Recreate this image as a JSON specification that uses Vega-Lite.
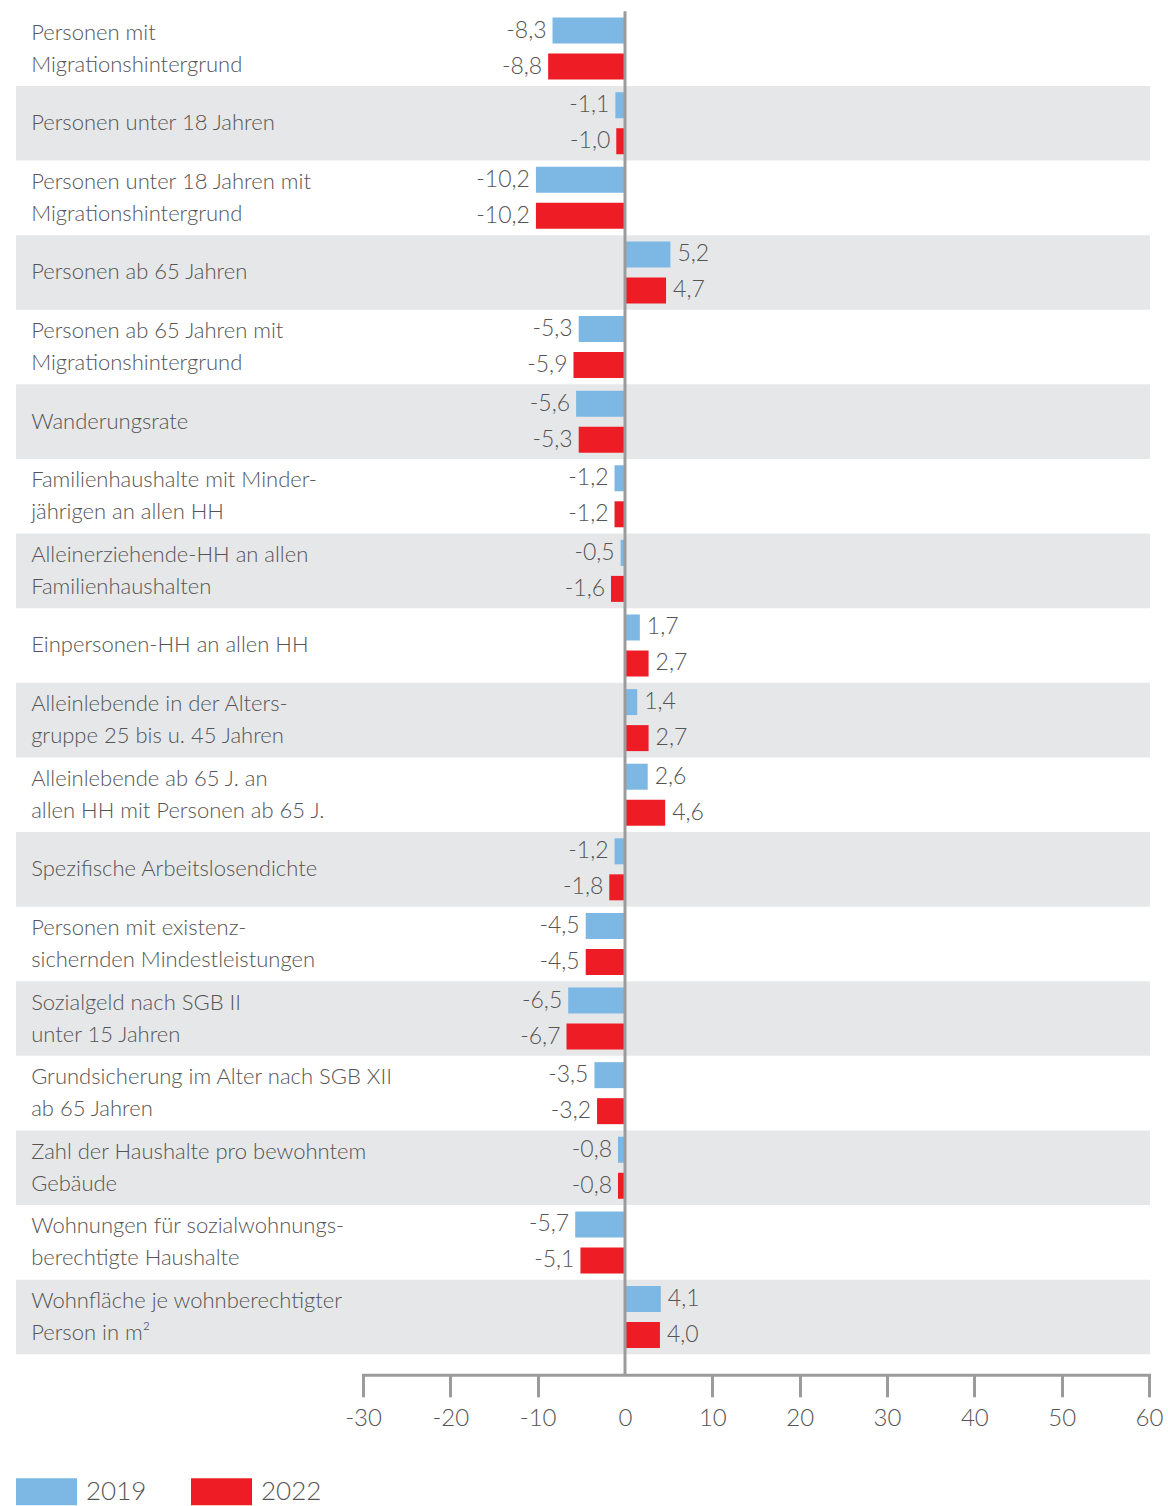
{
  "$schema": "https://vega.github.io/schema/vega-lite/v6.json",
  "width": 786,
  "height": 1363.5,
  "autosize": {"type": "none"},
  "padding": {"left": 363, "top": 11.3, "right": 19, "bottom": 131.2},
  "background": "white",
  "config": {
    "view": {"stroke": null},
    "font": "Lato",
    "locale": {"number": {"decimal": ",", "thousands": ".", "grouping": [3], "currency": ["", " €"], "minus": "-"}}
  },
  "datasets": {
    "labels": [
      {"cat": "c01", "lines": ["Personen mit", "Migrationshintergrund"]},
      {"cat": "c02", "lines": ["Personen unter 18 Jahren"]},
      {"cat": "c03", "lines": ["Personen unter 18 Jahren mit", "Migrationshintergrund"]},
      {"cat": "c04", "lines": ["Personen ab 65 Jahren"]},
      {"cat": "c05", "lines": ["Personen ab 65 Jahren mit", "Migrationshintergrund"]},
      {"cat": "c06", "lines": ["Wanderungsrate"]},
      {"cat": "c07", "lines": ["Familienhaushalte mit Minder-", "jährigen an allen HH"]},
      {"cat": "c08", "lines": ["Alleinerziehende-HH an allen", "Familienhaushalten"]},
      {"cat": "c09", "lines": ["Einpersonen-HH an allen HH"]},
      {"cat": "c10", "lines": ["Alleinlebende in der Alters-", "gruppe 25 bis u. 45 Jahren"]},
      {"cat": "c11", "lines": ["Alleinlebende ab 65 J. an", "allen HH mit Personen ab 65 J."]},
      {"cat": "c12", "lines": ["Spezifische Arbeitslosendichte"]},
      {"cat": "c13", "lines": ["Personen mit existenz-", "sichernden Mindestleistungen"]},
      {"cat": "c14", "lines": ["Sozialgeld nach SGB II", "unter 15 Jahren"]},
      {"cat": "c15", "lines": ["Grundsicherung im Alter nach SGB XII", "ab 65 Jahren"]},
      {"cat": "c16", "lines": ["Zahl der Haushalte pro bewohntem", "Gebäude"]},
      {"cat": "c17", "lines": ["Wohnungen für sozialwohnungs-", "berechtigte Haushalte"]},
      {"cat": "c18", "lines": ["Wohnfläche je wohnberechtigter", "Person in m²"]}
    ],
    "bars": [
      {"cat": "c01", "year": "2019", "value": -8.3}, {"cat": "c01", "year": "2022", "value": -8.8},
      {"cat": "c02", "year": "2019", "value": -1.1}, {"cat": "c02", "year": "2022", "value": -1.0},
      {"cat": "c03", "year": "2019", "value": -10.2}, {"cat": "c03", "year": "2022", "value": -10.2},
      {"cat": "c04", "year": "2019", "value": 5.2}, {"cat": "c04", "year": "2022", "value": 4.7},
      {"cat": "c05", "year": "2019", "value": -5.3}, {"cat": "c05", "year": "2022", "value": -5.9},
      {"cat": "c06", "year": "2019", "value": -5.6}, {"cat": "c06", "year": "2022", "value": -5.3},
      {"cat": "c07", "year": "2019", "value": -1.2}, {"cat": "c07", "year": "2022", "value": -1.2},
      {"cat": "c08", "year": "2019", "value": -0.5}, {"cat": "c08", "year": "2022", "value": -1.6},
      {"cat": "c09", "year": "2019", "value": 1.7}, {"cat": "c09", "year": "2022", "value": 2.7},
      {"cat": "c10", "year": "2019", "value": 1.4}, {"cat": "c10", "year": "2022", "value": 2.7},
      {"cat": "c11", "year": "2019", "value": 2.6}, {"cat": "c11", "year": "2022", "value": 4.6},
      {"cat": "c12", "year": "2019", "value": -1.2}, {"cat": "c12", "year": "2022", "value": -1.8},
      {"cat": "c13", "year": "2019", "value": -4.5}, {"cat": "c13", "year": "2022", "value": -4.5},
      {"cat": "c14", "year": "2019", "value": -6.5}, {"cat": "c14", "year": "2022", "value": -6.7},
      {"cat": "c15", "year": "2019", "value": -3.5}, {"cat": "c15", "year": "2022", "value": -3.2},
      {"cat": "c16", "year": "2019", "value": -0.8}, {"cat": "c16", "year": "2022", "value": -0.8},
      {"cat": "c17", "year": "2019", "value": -5.7}, {"cat": "c17", "year": "2022", "value": -5.1},
      {"cat": "c18", "year": "2019", "value": 4.1}, {"cat": "c18", "year": "2022", "value": 4.0}
    ]
  },
  "encoding": {
    "y": {
      "field": "cat", "type": "nominal", "axis": null,
      "scale": {
        "domain": ["c01","c02","c03","c04","c05","c06","c07","c08","c09","c10","c11","c12","c13","c14","c15","c16","c17","c18"],
        "paddingInner": 0, "paddingOuter": 0.1374, "align": 0
      }
    }
  },
  "layer": [
    {
      "data": {"name": "labels"},
      "transform": [
        {"window": [{"op": "row_number", "as": "rn"}]},
        {"filter": "datum.rn % 2 == 0"}
      ],
      "mark": {"type": "rect", "color": "#e6e7e9"},
      "encoding": {
        "x": {"datum": -69.73, "type": "quantitative", "scale": {"domain": [-30, 60], "nice": false, "zero": false},
          "axis": {
            "values": [-30, -20, -10, 0, 10, 20, 30, 40, 50, 60],
            "format": "d", "title": null, "grid": false, "labelFlush": false,
            "domainColor": "#9b9b9b", "domainWidth": 3, "domainCap": "square",
            "tickColor": {"condition": {"test": "datum.value == 0", "value": "transparent"}, "value": "#9b9b9b"},
            "tickSize": 22, "tickWidth": 3,
            "labelFontSize": 24, "labelColor": "#555555", "labelFontWeight": 300, "labelPadding": 10,
            "labelFont": "Lato"
          }
        },
        "x2": {"datum": 60.11}
      }
    },
    {
      "data": {"name": "bars"},
      "mark": {"type": "bar"},
      "encoding": {
        "x": {"field": "value", "type": "quantitative"},
        "yOffset": {"field": "year", "type": "nominal", "scale": {"paddingInner": 0.278, "paddingOuter": 0.175}},
        "color": {
          "field": "year", "type": "nominal",
          "scale": {"domain": ["2019", "2022"], "range": ["#7db7e3", "#ee1c25"]},
          "legend": {
            "title": null, "orient": "none", "direction": "horizontal",
            "legendX": -347, "legendY": 1449.5, "padding": 0,
            "symbolType": "M-1,-0.443L1,-0.443L1,0.443L-1,0.443Z",
            "symbolSize": 3721, "symbolStrokeWidth": 0,
            "labelFontSize": 26, "labelColor": "#555555", "labelFontWeight": 300,
            "labelOffset": 9, "columnPadding": 44, "labelFont": "Lato"
          }
        }
      }
    },
    {
      "data": {"values": [{}]},
      "mark": {"type": "rule", "color": "#9b9b9b", "strokeWidth": 3},
      "encoding": {"x": {"datum": 0, "type": "quantitative"}, "y": null}
    },
    {
      "data": {"name": "labels"},
      "transform": [{"filter": "length(datum.lines) == 1"}],
      "mark": {"type": "text", "align": "left", "baseline": "middle", "fontSize": 22, "fontWeight": 300, "color": "#555555", "lineHeight": 32},
      "encoding": {
        "x": {"datum": -68.0, "type": "quantitative"},
        "text": {"field": "lines", "type": "nominal"}
      }
    },
    {
      "data": {"name": "labels"},
      "transform": [{"filter": "length(datum.lines) == 2"}],
      "mark": {"type": "text", "align": "left", "baseline": "middle", "dy": -16, "fontSize": 22, "fontWeight": 300, "color": "#555555", "lineHeight": 32},
      "encoding": {
        "x": {"datum": -68.0, "type": "quantitative"},
        "text": {"field": "lines", "type": "nominal"}
      }
    },
    {
      "data": {"name": "bars"},
      "transform": [{"filter": "datum.value < 0"}],
      "mark": {"type": "text", "align": "right", "baseline": "middle", "dx": -6, "fontSize": 23, "fontWeight": 300, "color": "#555555"},
      "encoding": {
        "x": {"field": "value", "type": "quantitative"},
        "yOffset": {"field": "year", "type": "nominal", "scale": {"paddingInner": 0.278, "paddingOuter": 0.175}},
        "text": {"field": "value", "type": "quantitative", "format": ".1f"}
      }
    },
    {
      "data": {"name": "bars"},
      "transform": [{"filter": "datum.value >= 0"}],
      "mark": {"type": "text", "align": "left", "baseline": "middle", "dx": 7, "fontSize": 23, "fontWeight": 300, "color": "#555555"},
      "encoding": {
        "x": {"field": "value", "type": "quantitative"},
        "yOffset": {"field": "year", "type": "nominal", "scale": {"paddingInner": 0.278, "paddingOuter": 0.175}},
        "text": {"field": "value", "type": "quantitative", "format": ".1f"}
      }
    }
  ]
}
